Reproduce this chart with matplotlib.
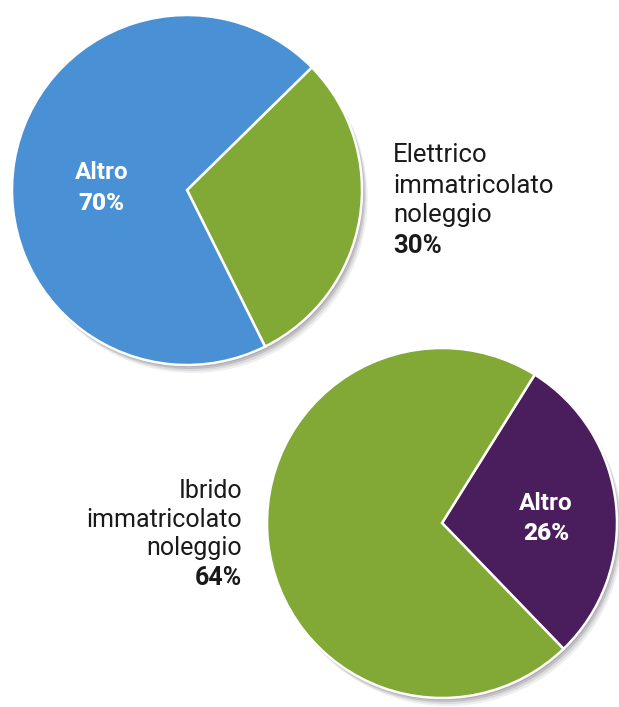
import matplotlib
matplotlib.use("Agg")
import matplotlib.pyplot as plt
from matplotlib.patches import Circle

# ---- data ----
top_labels = ["Elettrico immatricolato noleggio", "Altro"]
top_values = [30, 70]
top_colors = ["#82a935", "#4a90d4"]

bot_labels = ["Altro", "Ibrido immatricolato noleggio"]
bot_values = [26, 64]
bot_colors = ["#4a1d5c", "#82a935"]

W, H = 619, 707
fig = plt.figure(figsize=(W / 100, H / 100), dpi=100)
ax = fig.add_axes([0, 0, 1, 1])
ax.set_axis_off()

FAM = ["Roboto", "DejaVu Sans"]

def py(y):
    return H - y

TOP = (187, 190, 175)
BOT = (442, 523, 175)

# soft drop shadows
for (cx, cy, r) in [TOP, BOT]:
    for k, a in [(8, 0.10), (6, 0.15), (4, 0.22), (2, 0.25)]:
        ax.add_patch(Circle((cx + k * 0.7, py(cy) - k), r, color="#6a6470", alpha=a, lw=0, zorder=0))

ax.pie(top_values, colors=top_colors, startangle=-63.5, counterclock=True,
       center=(TOP[0], py(TOP[1])), radius=TOP[2], frame=True,
       wedgeprops=dict(edgecolor="white", linewidth=1.8))
ax.pie(bot_values, colors=bot_colors, startangle=-46, counterclock=True,
       center=(BOT[0], py(BOT[1])), radius=BOT[2], frame=True,
       wedgeprops=dict(edgecolor="white", linewidth=1.8))

ax.set_xlim(0, W)
ax.set_ylim(0, H)
ax.set_aspect("auto")
ax.set_axis_off()

# labels inside pies
ax.text(102, py(179), "Altro", color="white", fontsize=17.5, family=FAM, fontweight="bold",
        ha="center", va="baseline")
ax.text(101, py(210), f"{top_values[1]}%", color="white", fontsize=17.5, family=FAM,
        fontweight="heavy", ha="center", va="baseline")

ax.text(546, py(510), "Altro", color="white", fontsize=17.5, family=FAM, fontweight="bold",
        ha="center", va="baseline")
ax.text(546, py(540), f"{bot_values[0]}%", color="white", fontsize=17.5, family=FAM,
        fontweight="heavy", ha="center", va="baseline")

# outside labels
right_lines = ["Elettrico", "immatricolato", "noleggio"]
ys = [162, 193, 222]
for t, y in zip(right_lines, ys):
    ax.text(393, py(y), t, color="#1a1a1a", fontsize=18.5, family=FAM, ha="left", va="baseline")
ax.text(393, py(253), f"{top_values[0]}%", color="#1a1a1a", fontsize=18.5, family=FAM,
        fontweight="bold", ha="left", va="baseline")

left_lines = ["Ibrido", "immatricolato", "noleggio"]
ys = [498, 527, 555]
for t, y in zip(left_lines, ys):
    ax.text(242, py(y), t, color="#1a1a1a", fontsize=18, family=FAM, ha="right", va="baseline")
ax.text(242, py(585), f"{bot_values[1]}%", color="#1a1a1a", fontsize=18, family=FAM,
        fontweight="bold", ha="right", va="baseline")

fig.savefig("out.png", dpi=100, facecolor="white")
